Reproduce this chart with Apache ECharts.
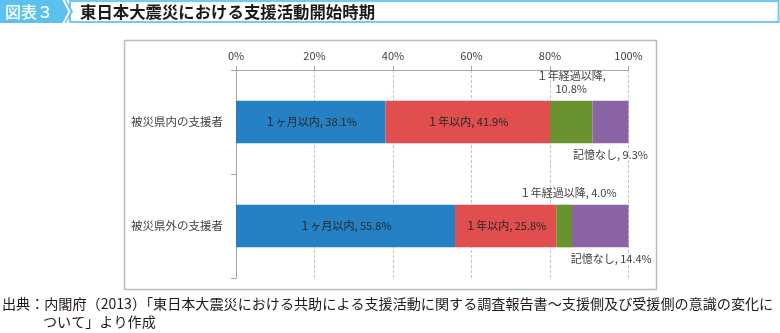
<!DOCTYPE html>
<html>
<head>
<meta charset="utf-8">
<script src="https://cdn.jsdelivr.net/npm/echarts@6/dist/echarts.min.js"></script>
<style>
  html, body { margin: 0; padding: 0; background: #fff; }
  #chart { width: 780px; height: 333px; }
</style>
</head>
<body>
<div id="chart"></div>
<script>
// Respondent groups (top to bottom)
const categories = ['被災県内の支援者', '被災県外の支援者'];

// Share of respondents by start timing of support activities (%)
const seriesNames = ['１ヶ月以内', '１年以内', '１年経過以降', '記憶なし'];
const withinMonth = [38.1, 55.8];
const withinYear = [41.9, 25.8];
const afterYear = [10.8, 4.0];
const noMemory = [9.3, 14.4];

// Percent axis ticks
const tickValues = [0, 20, 40, 60, 80, 100];

const colors = ['#2581C4', '#E04E4E', '#6A922F', '#8B64A6'];
const FONT = '"Noto Sans CJK JP", "Noto Sans", sans-serif';

const chart = echarts.init(document.getElementById('chart'), null, { renderer: 'canvas' });

const labelInside = {
  show: true,
  position: 'inside',
  color: '#262626',
  fontSize: 11,
  fontFamily: FONT,
  formatter: p => p.seriesName + ', ' + p.value.toFixed(1) + '%'
};

function outsideItems(values, place) {
  return values.map(v => ({
    value: v,
    label: { show: true, position: place, color: '#404040', fontSize: 11, fontFamily: FONT, lineHeight: 13 }
  }));
}

const afterYearData = outsideItems(afterYear, 'top');
afterYearData[0].label.formatter = p => p.seriesName + ',\n' + p.value.toFixed(1) + '%';
afterYearData[1].label.formatter = p => p.seriesName + ', ' + p.value.toFixed(1) + '%';
afterYearData[1].label.offset = [4, 0];

const noMemoryData = outsideItems(noMemory, 'bottom');
noMemoryData.forEach(d => { d.label.formatter = p => p.seriesName + ', ' + p.value.toFixed(1) + '%'; });
noMemoryData[1].label.offset = [11, 0];

const barCommon = { type: 'bar', stack: 'total', barWidth: '41%' };

const option = {
  animation: false,
  color: colors,
  grid: { left: 236, right: 151.5, top: 70, bottom: 55, containLabel: false },
  xAxis: {
    type: 'value',
    position: 'top',
    min: tickValues[0],
    max: tickValues[tickValues.length - 1],
    interval: tickValues[1] - tickValues[0],
    axisLine: { show: true, lineStyle: { color: '#a6a6a6', width: 1 } },
    axisTick: { show: true, length: 4, lineStyle: { color: '#a6a6a6' } },
    axisLabel: { formatter: '{value}%', color: '#404040', fontSize: 11, fontFamily: FONT, margin: 9 },
    splitLine: { show: true, lineStyle: { color: '#c4c4c4', type: [3, 2], width: 1 } }
  },
  yAxis: {
    type: 'category',
    inverse: true,
    data: categories,
    axisLine: { show: true, lineStyle: { color: '#a6a6a6', width: 1 } },
    axisTick: { show: true, length: 5, lineStyle: { color: '#a6a6a6' } },
    axisLabel: { color: '#404040', fontSize: 11.5, fontFamily: FONT, margin: 13 }
  },
  series: [
    Object.assign({}, barCommon, { name: seriesNames[0], data: withinMonth, label: labelInside }),
    Object.assign({}, barCommon, { name: seriesNames[1], data: withinYear, label: labelInside }),
    Object.assign({}, barCommon, { name: seriesNames[2], data: afterYearData }),
    Object.assign({}, barCommon, { name: seriesNames[3], data: noMemoryData })
  ],
  graphic: [
    // header: figure number tab with arrow tip
    { type: 'polygon', shape: { points: [[0, 0], [66, 0], [73, 11.5], [66, 23], [0, 23]] }, style: { fill: '#5BC2EE' }, z: 10 },
    { type: 'polyline', shape: { points: [[63, -1], [69.5, 11.5], [63, 24]] }, style: { stroke: '#ffffff', lineWidth: 2, fill: null }, z: 11 },
    { type: 'rect', shape: { x: 70, y: 1, width: 708.5, height: 21 }, style: { fill: 'none', stroke: '#72CCF1', lineWidth: 2 }, z: 9 },
    { type: 'text', x: 5, y: 11.5, style: { text: '図表３', fill: '#ffffff', font: '500 16px ' + FONT, verticalAlign: 'middle' }, z: 12 },
    { type: 'text', x: 80, y: 12, style: { text: '東日本大震災における支援活動開始時期', fill: '#1a1a1a', font: 'bold 16.4px ' + FONT, verticalAlign: 'middle' }, z: 12 },
    // chart frame
    { type: 'rect', shape: { x: 124.5, y: 40.5, width: 532, height: 249 }, style: { fill: 'none', stroke: '#bdbdbd', lineWidth: 1.5 }, z: 1 },
    // source note
    { type: 'text', x: 2, y: 304, style: { text: '出典：内閣府（2013）「東日本大震災における共助による支援活動に関する調査報告書～支援側及び受援側の意識の変化に', fill: '#231815', font: '14.1px ' + FONT, verticalAlign: 'middle' } },
    { type: 'text', x: 43, y: 322, style: { text: 'ついて」より作成', fill: '#231815', font: '14.1px ' + FONT, verticalAlign: 'middle' } }
  ]
};

chart.setOption(option);
</script>
</body>
</html>
